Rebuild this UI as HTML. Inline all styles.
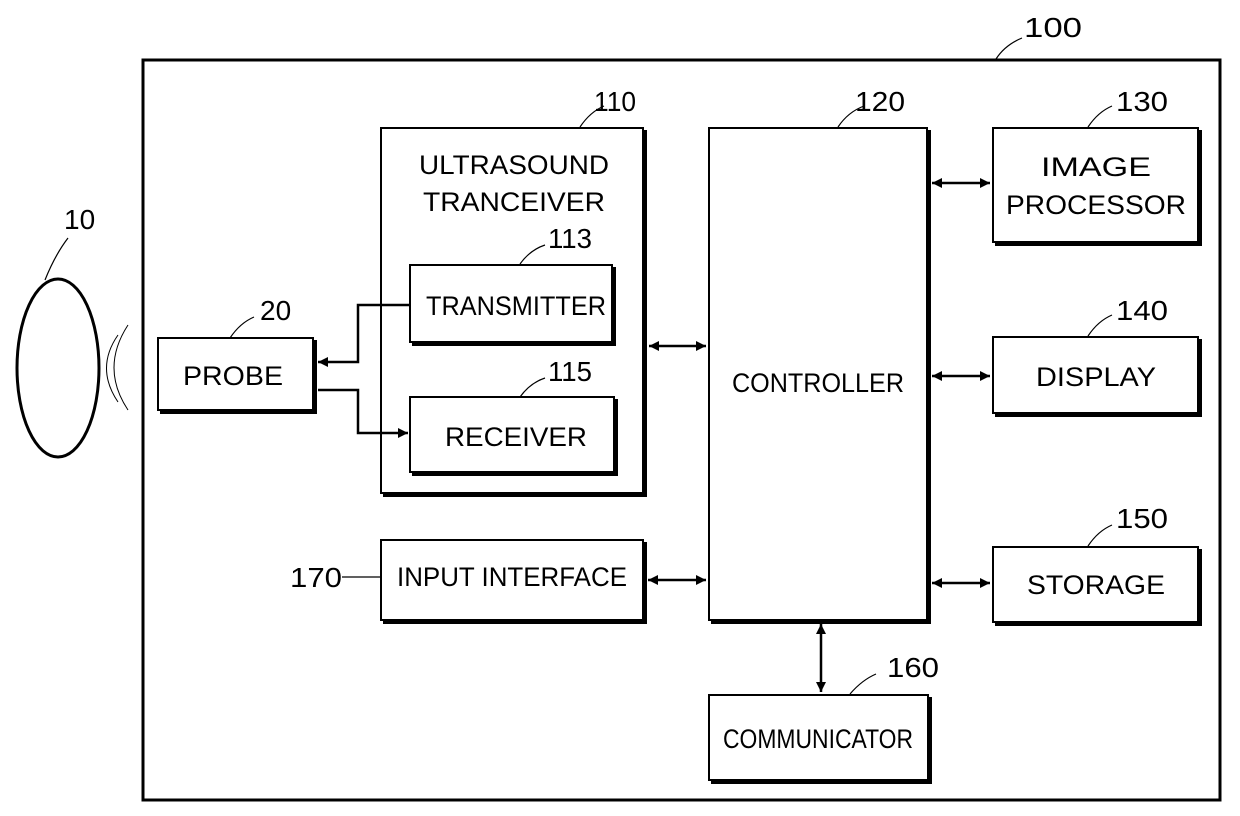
<!DOCTYPE html>
<html><head><style>body{margin:0;background:#fff}svg{display:block}</style></head><body>
<svg width="1240" height="816" viewBox="0 0 1240 816" xmlns="http://www.w3.org/2000/svg" font-family="Liberation Sans, sans-serif" font-size="27" fill="#000">
<defs>
<marker id="b" viewBox="0 0 10 10" refX="10" refY="5" markerWidth="16" markerHeight="10" orient="auto-start-reverse" markerUnits="userSpaceOnUse"><path d="M0,0 L10,5 L0,10z" fill="#000"/></marker>
</defs>
<g fill="none" stroke="#000">
<rect x="143" y="60" width="1077" height="740" stroke-width="3"/>
<ellipse cx="58" cy="368" rx="41" ry="89" stroke-width="3"/>
<path d="M118,335 Q95,368 118,402" stroke-width="1"/>
<path d="M128,325 Q100,368 128,410" stroke-width="1"/>
<g stroke-width="2">
<rect x="158" y="338" width="155" height="72"/>
<rect x="381" y="128" width="262" height="365"/>
<rect x="410" y="265" width="202" height="77"/>
<rect x="410" y="397" width="204" height="75"/>
<rect x="709" y="128" width="218" height="492"/>
<rect x="993" y="128" width="205" height="114"/>
<rect x="993" y="337" width="205" height="76"/>
<rect x="993" y="547" width="205" height="75"/>
<rect x="381" y="540" width="262" height="80"/>
<rect x="709" y="695" width="219" height="85"/>
</g>
<g stroke-width="4">
<path d="M315,340 V412 H160"/>
<path d="M645,130 V495 H383"/>
<path d="M614,267 V344 H412"/>
<path d="M616,399 V474 H412"/>
<path d="M929,130 V622 H711"/>
<path d="M1200,130 V244 H995"/>
<path d="M1200,339 V415 H995"/>
<path d="M1200,549 V624 H995"/>
<path d="M645,542 V622 H383"/>
<path d="M930,697 V782 H711"/>
</g>
<g stroke-width="2.5">
<path d="M410,305 H358 V362 H318" marker-end="url(#b)"/>
<path d="M318,390 H358 V433 H408" marker-end="url(#b)"/>
<path d="M649,346 H706" marker-start="url(#b)" marker-end="url(#b)"/>
<path d="M932,183 H990" marker-start="url(#b)" marker-end="url(#b)"/>
<path d="M932,376 H990" marker-start="url(#b)" marker-end="url(#b)"/>
<path d="M932,583 H990" marker-start="url(#b)" marker-end="url(#b)"/>
<path d="M648,580 H706" marker-start="url(#b)" marker-end="url(#b)"/>
<path d="M821,624 V692" marker-start="url(#b)" marker-end="url(#b)"/>
</g>
<g stroke-width="1.2">
<path d="M996,59 Q1005,45 1022,38"/>
<path d="M580,127 Q590,112 604,106"/>
<path d="M838,127 Q848,112 864,106"/>
<path d="M1088,127 Q1098,112 1112,106"/>
<path d="M45,280 Q55,255 68,238"/>
<path d="M230,338 Q240,323 254,317"/>
<path d="M520,264 Q530,250 545,245"/>
<path d="M520,397 Q530,383 545,378"/>
<path d="M1088,336 Q1098,321 1112,315"/>
<path d="M1088,546 Q1098,531 1112,525"/>
<path d="M850,694 Q862,680 876,674"/>
<path d="M342,577 H380"/>
</g>
</g>
<g font-size="28">
<text x="1024" y="37" textLength="58" lengthAdjust="spacingAndGlyphs">100</text>
<text x="594" y="111" textLength="42" lengthAdjust="spacingAndGlyphs">110</text>
<text x="855" y="111" textLength="50" lengthAdjust="spacingAndGlyphs">120</text>
<text x="1116" y="111" textLength="52" lengthAdjust="spacingAndGlyphs">130</text>
<text x="64" y="229">10</text>
<text x="260" y="320">20</text>
<text x="548" y="248" textLength="44" lengthAdjust="spacingAndGlyphs">113</text>
<text x="548" y="381" textLength="44" lengthAdjust="spacingAndGlyphs">115</text>
<text x="1116" y="320" textLength="52" lengthAdjust="spacingAndGlyphs">140</text>
<text x="1116" y="528" textLength="52" lengthAdjust="spacingAndGlyphs">150</text>
<text x="887" y="677" textLength="52" lengthAdjust="spacingAndGlyphs">160</text>
<text x="290" y="587" textLength="52" lengthAdjust="spacingAndGlyphs">170</text>
</g>
<g text-anchor="middle">
<text x="514" y="174" textLength="190" lengthAdjust="spacingAndGlyphs">ULTRASOUND</text>
<text x="514" y="211" textLength="182" lengthAdjust="spacingAndGlyphs">TRANCEIVER</text>
<text x="516" y="315" textLength="180" lengthAdjust="spacingAndGlyphs">TRANSMITTER</text>
<text x="233" y="385" textLength="100" lengthAdjust="spacingAndGlyphs">PROBE</text>
<text x="516" y="446" textLength="142" lengthAdjust="spacingAndGlyphs">RECEIVER</text>
<text x="818" y="392" textLength="172" lengthAdjust="spacingAndGlyphs">CONTROLLER</text>
<text x="1096" y="176" textLength="110" lengthAdjust="spacingAndGlyphs">IMAGE</text>
<text x="1096" y="214" textLength="180" lengthAdjust="spacingAndGlyphs">PROCESSOR</text>
<text x="1096" y="386" textLength="120" lengthAdjust="spacingAndGlyphs">DISPLAY</text>
<text x="1096" y="594" textLength="138" lengthAdjust="spacingAndGlyphs">STORAGE</text>
<text x="512" y="586" textLength="230" lengthAdjust="spacingAndGlyphs">INPUT INTERFACE</text>
<text x="818" y="748" textLength="190" lengthAdjust="spacingAndGlyphs">COMMUNICATOR</text>
</g>
</svg>
</body></html>
